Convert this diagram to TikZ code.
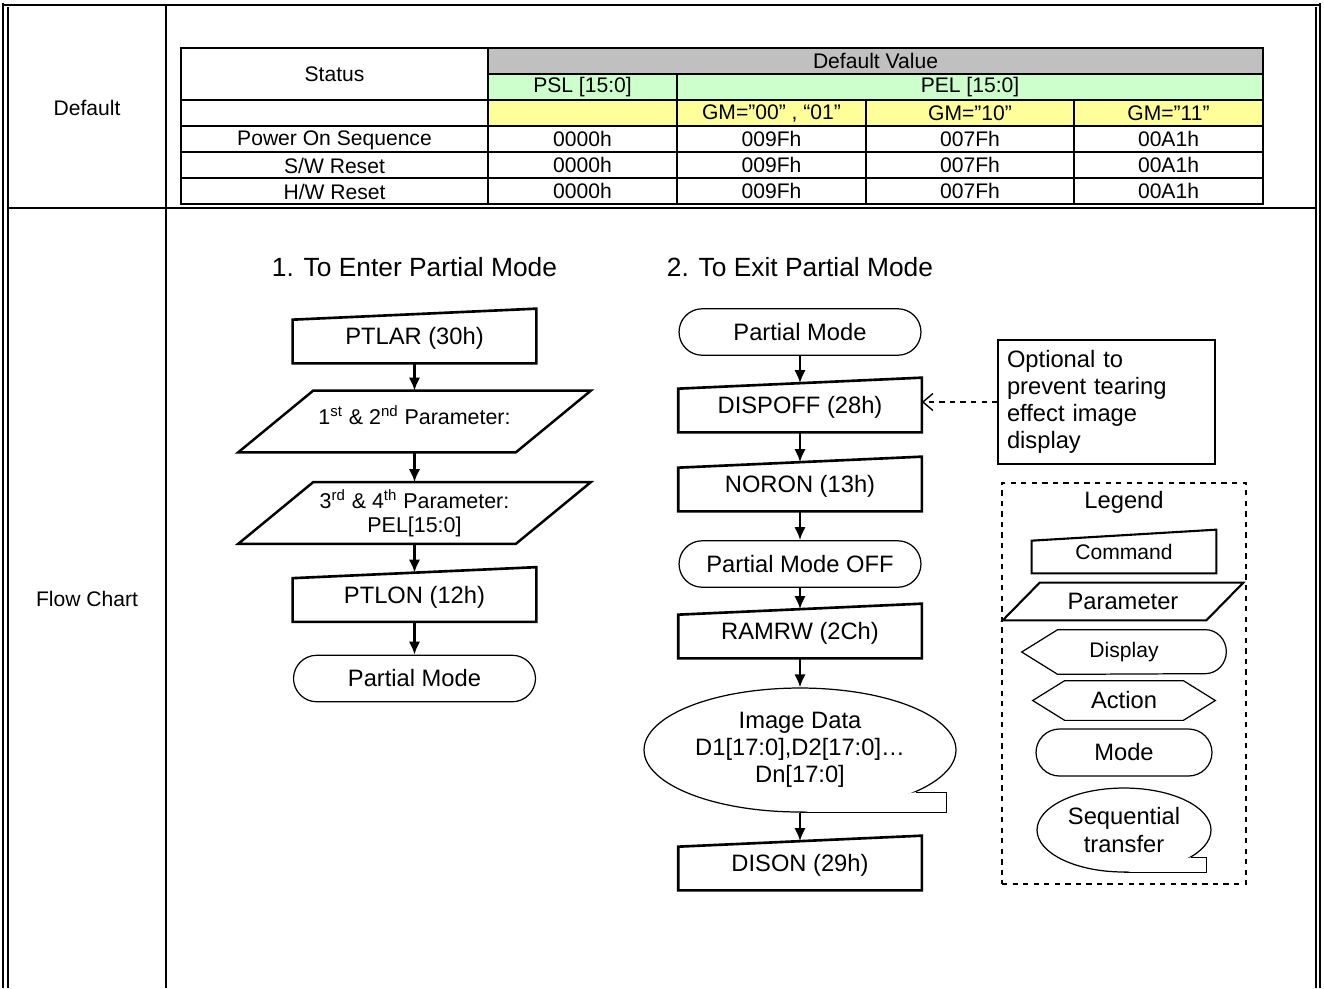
\documentclass[tikz,border=0pt]{standalone}
\usepackage{fontspec}
\setmainfont{Liberation Sans}
\usetikzlibrary{arrows.meta,shapes.geometric,shapes.misc,calc}

\definecolor{headgrey}{HTML}{C0C0C0}
\definecolor{pelgreen}{HTML}{CCFFCC}
\definecolor{gmyellow}{HTML}{FFFF99}

\newcommand{\tabfont}{\fontsize{12}{14}\selectfont}
\newcommand{\flowfont}{\fontsize{13.5}{15.4}\selectfont}
\newcommand{\parfont}{\fontsize{12.2}{13.7}\selectfont}
\newcommand{\titlefont}{\fontsize{15}{18}\selectfont}

% command box: top edge rises to the right
\newcommand{\cmdoutline}[2][]{%
  \draw[#1] (#2.south west) -- ([yshift=-0.22cm]#2.north west) -- (#2.north east) -- (#2.south east) -- cycle;}
% parameter box: parallelogram, #3 = slant
\newcommand{\paroutline}[3][]{%
  \draw[#1] (#2.south west) -- ([xshift=#3]#2.north west) -- (#2.north east) -- ([xshift=-#3]#2.south east) -- cycle;}

\begin{document}
\begin{tikzpicture}[x=0.02cm,y=0.02cm,
  tabtext/.style={font=\tabfont,inner sep=0pt},
  tabline/.style={line width=0.9pt},
  tabframe/.style={line width=1.4pt},
  frameline/.style={line width=0.9pt},
  cmdbox/.style={minimum width=4.86cm,minimum height=1.08cm,inner sep=0pt,text depth=0pt,font=\flowfont},
  parbox/.style={minimum width=7.04cm,minimum height=1.22cm,inner sep=0pt,font=\parfont,align=center},
  modebox/.style={rounded rectangle,draw,line width=0.7pt,minimum width=4.84cm,minimum height=0.93cm,inner sep=0pt,font=\flowfont},
  seqbox/.style={ellipse,draw,line width=0.7pt,inner sep=0pt,font=\flowfont,align=center},
  flow/.style={-{Latex[length=2.6mm,width=2.3mm]},line width=1.5pt}]

\path[use as bounding box,fill=white] (0,0) rectangle (1324,-988);

% outer frame
\draw[frameline] (3,-3) -- (3,-988);
\draw[frameline] (8,-7) -- (8,-988);
\draw[frameline] (1320,-3) -- (1320,-988);
\draw[frameline] (1316,-7) -- (1316,-988);
\draw[line width=1.7pt] (3,-5) -- (1320,-5);
\draw[frameline] (166,-5) -- (166,-988);
\draw[frameline] (8,-208) -- (1316,-208);

\node[tabtext] (default) at (87,-108) {Default};
\node[tabtext] (flowchart) at (87,-599) {Flow Chart};

% default value table
\fill[headgrey] (488,-48) rectangle (1263,-74);
\fill[pelgreen] (488,-74) rectangle (1263,-100);
\fill[gmyellow] (488,-100) rectangle (1263,-126);
\draw[tabline] (488,-48) -- (488,-204);
\draw[tabline] (677,-74) -- (677,-204);
\draw[tabline] (866,-100) -- (866,-204);
\draw[tabline] (1074,-100) -- (1074,-204);
\draw[tabline] (488,-74) -- (1263,-74);
\draw[tabline] (181,-100) -- (1263,-100);
\foreach \yy in {126,152,178}
  \draw[tabline] (181,-\yy) -- (1263,-\yy);
\draw[tabframe] (181,-48) rectangle (1263,-204);

\node[tabtext] (status) at (334.5,-74) {Status};
\node[tabtext] (defval) at (875.5,-61) {Default Value};
\node[tabtext] (psl) at (582.5,-87) {PSL [15:0]};
\node[tabtext] (pel) at (970,-87) {PEL [15:0]};
\node[tabtext] (gma) at (771.5,-113) {GM=”00” , “01”};
\node[tabtext] (gmb) at (970,-113) {GM=”10”};
\node[tabtext] (gmc) at (1168.5,-113) {GM=”11”};
\node[tabtext] (rowpon) at (334.5,-140) {Power On Sequence};
\node[tabtext] (rowsw) at (334.5,-166) {S/W Reset};
\node[tabtext] (rowhw) at (334.5,-192) {H/W Reset};
\foreach \yy [count=\r] in {139,165,191} {
  \node[tabtext] (psl\r) at (582.5,-\yy) {0000h};
  \node[tabtext] (gma\r) at (771.5,-\yy) {009Fh};
  \node[tabtext] (gmb\r) at (970,-\yy) {007Fh};
  \node[tabtext] (gmc\r) at (1168.5,-\yy) {00A1h};
}

% 1. enter partial mode
\node[font=\titlefont] (title1) at (414.5,-267) {1. To Enter Partial Mode};
\node[cmdbox] (ptlar) at (414.5,-336) {PTLAR (30h)};
\cmdoutline[line width=1.5pt]{ptlar}
\node[parbox] (par1) at (414.5,-421.5) {\raisebox{7pt}{1\textsuperscript{st} \& 2\textsuperscript{nd} Parameter:}};
\paroutline[line width=1.4pt]{par1}{1.5cm}
\node[parbox] (par2) at (414.5,-513) {3\textsuperscript{rd} \& 4\textsuperscript{th} Parameter:\\PEL[15:0]};
\paroutline[line width=1.4pt]{par2}{1.5cm}
\node[cmdbox] (ptlon) at (414.5,-594.5) {PTLON (12h)};
\cmdoutline[line width=1.5pt]{ptlon}
\node[modebox] (pm1) at (414.5,-678.5) {Partial Mode};

\draw[flow] (ptlar.south) -- (par1.north);
\draw[flow] (par1.south) -- (par2.north);
\draw[flow] (par2.south) -- ([yshift=-0.11cm]ptlon.north);
\draw[flow] (ptlon.south) -- (pm1.north);

% 2. exit partial mode
\node[font=\titlefont] (title2) at (800,-267) {2. To Exit Partial Mode};
\node[modebox] (pm2) at (800,-332) {Partial Mode};
\node[cmdbox] (dispoff) at (800,-405) {DISPOFF (28h)};
\cmdoutline[line width=1.5pt]{dispoff}
\node[cmdbox] (noron) at (800,-484) {NORON (13h)};
\cmdoutline[line width=1.5pt]{noron}
\node[modebox] (pmoff) at (800,-564) {Partial Mode OFF};
\node[cmdbox] (ramrw) at (800,-631) {RAMRW (2Ch)};
\cmdoutline[line width=1.5pt]{ramrw}
\node[seqbox,minimum width=6.24cm,minimum height=2.48cm] (img) at (800,-750)
  {Image Data\\D1[17:0],D2[17:0]…\\Dn[17:0]};
\fill[white] (img.-20) -- ++(31,0) |- (img.south) -- cycle;
\draw[line width=0.7pt] (img.-20) -- ++(31,0) |- (img.south);
\node[cmdbox] (dison) at (800,-863) {DISON (29h)};
\cmdoutline[line width=1.5pt]{dison}

\draw[flow] (pm2.south) -- ([yshift=-0.11cm]dispoff.north);
\draw[flow] (dispoff.south) -- ([yshift=-0.11cm]noron.north);
\draw[flow] (noron.south) -- (pmoff.north);
\draw[flow] (pmoff.south) -- ([yshift=-0.11cm]ramrw.north);
\draw[flow] (ramrw.south) -- (img.north);
\draw[flow] (img.south) -- ([yshift=-0.11cm]dison.north);

% note
\node[draw,line width=0.8pt,minimum width=4.34cm,minimum height=2.48cm,text width=3.98cm,
  inner xsep=0.18cm,align=left,font=\flowfont] (opt) at (1106.5,-402)
  {Optional to\\prevent tearing\\effect image\\display};
\draw[dashed,line width=0.8pt,-{Straight Barb[length=2mm,width=3.4mm]}] (opt.west) -- (opt.west -| dispoff.east);

% legend
\node[draw,dashed,line width=0.8pt,minimum width=4.88cm,minimum height=8.02cm,inner sep=0pt] (legendbox) at (1124,-683.5) {};
\node[font=\flowfont] (legendtitle) at (1124,-502) {Legend};
\node[cmdbox,minimum width=3.68cm,minimum height=0.86cm,font=\tabfont] (lcmd) at (1124,-551.5) {Command};
\cmdoutline[line width=1.2pt]{lcmd}
\node[parbox,minimum width=4.8cm,minimum height=0.74cm,font=\flowfont] (lpar) at (1123,-601.5) {Parameter};
\paroutline[line width=1.2pt]{lpar}{0.74cm}
\node[minimum width=4.08cm,minimum height=0.88cm,inner sep=0pt,font=\tabfont] (ldisp) at (1124,-652) {Display};
\draw[line width=0.7pt] (ldisp.west) -- ([xshift=0.72cm]ldisp.north west) -- ([xshift=-0.42cm]ldisp.north east)
  arc[start angle=90,end angle=-90,x radius=0.42cm,y radius=0.44cm] -- ([xshift=0.72cm]ldisp.south west) -- cycle;
\node[minimum width=3.64cm,minimum height=0.78cm,inner sep=0pt,font=\flowfont] (lact) at (1124,-700.5) {Action};
\draw[line width=0.7pt] (lact.west) -- ([xshift=0.64cm]lact.north west) -- ([xshift=-0.64cm]lact.north east)
  -- (lact.east) -- ([xshift=-0.64cm]lact.south east) -- ([xshift=0.64cm]lact.south west) -- cycle;
\node[modebox,minimum width=3.52cm,minimum height=0.94cm] (lmode) at (1124,-752.5) {Mode};
\node[seqbox,minimum width=3.48cm,minimum height=1.68cm] (lseq) at (1124,-830) {Sequential\\transfer};
\fill[white] (lseq.-22.5) -- ++(15,0) |- (lseq.south) -- cycle;
\draw[line width=0.7pt] (lseq.-22.5) -- ++(15,0) |- (lseq.south);
\end{tikzpicture}
\end{document}
